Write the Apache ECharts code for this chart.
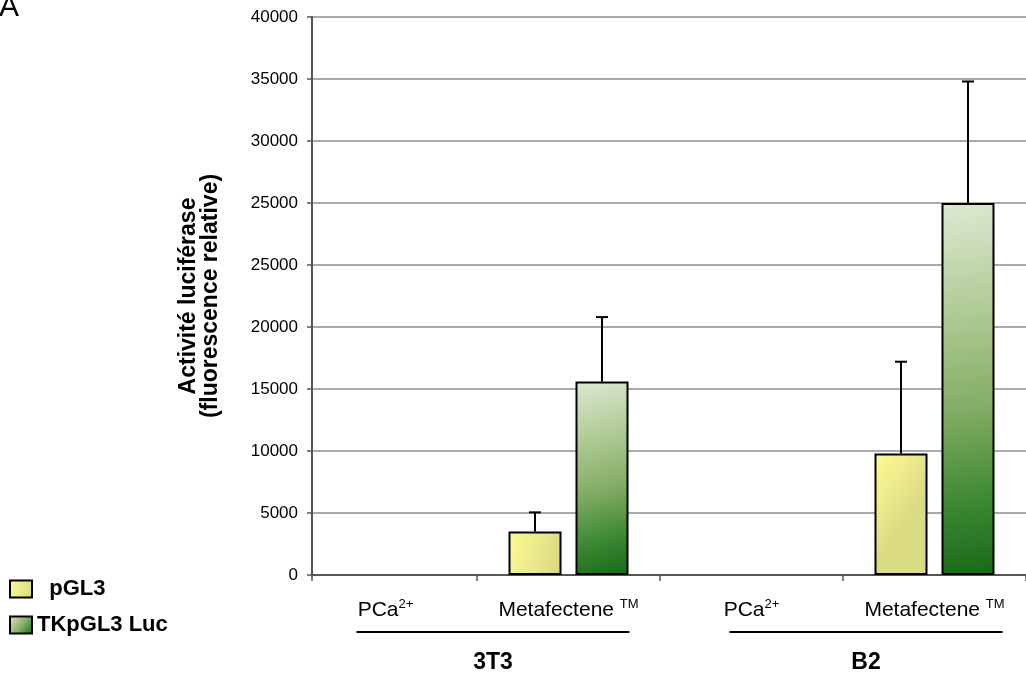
<!DOCTYPE html>
<html><head><meta charset="utf-8">
<script src="https://cdn.jsdelivr.net/npm/echarts@6/dist/echarts.min.js"></script>
<style>html,body{margin:0;padding:0;background:#fff}#c{width:1026px;height:678px}</style>
</head><body><div id="c"></div>
<script>
// ---- data ----
const categories = ['PCa2+', 'Metafectene TM', 'PCa2+', 'Metafectene TM'];
const groups = ['3T3', 'B2'];
const seriesNames = ['pGL3', 'TKpGL3 Luc'];
// values are in the axis' linear units (the source axis repeats the "25000" tick label)
const pGL3Values = [null, 3500, null, 9800];
const pGL3ErrTop = [null, 5050, null, 17200];
const tkValues = [null, 15600, null, 30000];
const tkErrTop = [null, 20800, null, 39800];
const yTickLabels = ['0', '5000', '10000', '15000', '20000', '25000', '25000', '30000', '35000', '40000'];
const yAxisTitle = 'Activité luciférase\n(fluorescence relative)';
const panelLetter = 'A';

// ---- chart ----
const FONT = '"Liberation Sans", Arial, sans-serif';
const Y_MAX = (yTickLabels.length - 1) * 5000;
const BAR_W = 53, BAR_GAP = 14;
const OFF = (BAR_W + BAR_GAP) / 2;

function errData(vals, tops) {
  const out = [];
  vals.forEach((v, i) => { if (v != null) out.push([i, v, tops[i]]); });
  return out;
}
function errRender(offset) {
  return function (params, api) {
    const base = api.coord([api.value(0), api.value(1)]);
    const top = api.coord([api.value(0), api.value(2)]);
    const x = base[0] + offset;
    const style = { stroke: '#000', lineWidth: 2 };
    return { type: 'group', children: [
      { type: 'line', shape: { x1: x, y1: base[1], x2: x, y2: top[1] }, style },
      { type: 'line', shape: { x1: x - 6, y1: top[1], x2: x + 6, y2: top[1] }, style }
    ] };
  };
}
function catLabel(v) {
  const m = v.match(/^(.*?)(2\+|TM)$/);
  return m ? '{n|' + m[1] + '}{s|' + m[2] + '}' : '{n|' + v + '}';
}

const yellowGrad = new echarts.graphic.LinearGradient(0, 0, 1, 0.3, [
  { offset: 0, color: '#fcfc94' }, { offset: 0.5, color: '#eeec8c' }, { offset: 1, color: '#dbdb84' }
]);
const greenGrad = new echarts.graphic.LinearGradient(0, 0, 1, 1, [
  { offset: 0, color: '#dde9d2' }, { offset: 0.3, color: '#afca94' }, { offset: 0.55, color: '#84ad66' },
  { offset: 0.8, color: '#3c8834' }, { offset: 1, color: '#176a17' }
]);

const chart = echarts.init(document.getElementById('c'), null, { renderer: 'canvas' });
chart.setOption({
  animation: false,
  textStyle: { fontFamily: FONT },
  title: { text: panelLetter, left: -1, top: -7, padding: 0,
    textStyle: { fontSize: 30, fontWeight: 'normal', color: '#000', fontFamily: FONT } },
  legend: {
    data: seriesNames, orient: 'vertical', left: 9, top: 578, padding: 0,
    itemWidth: 22, itemHeight: 17, itemGap: 14, icon: 'rect', selectedMode: false,
    itemStyle: { borderColor: '#000', borderWidth: 2 },
    formatter: n => (n === seriesNames[0] ? '  ' + n : n),
    textStyle: { fontSize: 22, fontWeight: 'bold', color: '#000', lineHeight: 20, fontFamily: FONT }
  },
  grid: [
    { left: 312, right: 0, top: 17, bottom: 103 },
    { left: 294, right: 0, top: 17, bottom: 103 },
    { left: 493, width: 373, top: 17, bottom: 103 }
  ],
  xAxis: [
    { gridIndex: 0, type: 'category', data: categories.map(() => ''),
      axisLine: { show: true, lineStyle: { color: '#555', width: 2 } },
      axisTick: { show: true, interval: i => i === 0, length: 6, lineStyle: { color: '#555', width: 1.5 } },
      axisLabel: { show: false }, splitLine: { show: false } },
    { gridIndex: 1, type: 'category', data: categories,
      axisLine: { show: false },
      axisTick: { show: true, interval: i => i > 0, length: 6, lineStyle: { color: '#555', width: 1.5 } },
      axisLabel: { margin: 23, formatter: catLabel, color: '#000',
        rich: {
          n: { fontSize: 21, lineHeight: 24, color: '#000', fontFamily: FONT },
          s: { fontSize: 13, lineHeight: 15, verticalAlign: 'top', color: '#000', fontFamily: FONT }
        } } },
    { gridIndex: 2, type: 'category', data: groups, boundaryGap: false,
      axisLine: { show: false }, axisTick: { show: false },
      axisLabel: { margin: 56, formatter: v => '{ln| }\n{g|' + v + '}',
        rich: {
          ln: { width: 273, height: 2, lineHeight: 2, fontSize: 1, backgroundColor: '#000' },
          g: { fontSize: 23, fontWeight: 'bold', lineHeight: 60, color: '#000', fontFamily: FONT }
        } } }
  ],
  yAxis: [
    { gridIndex: 0, type: 'value', min: 0, max: Y_MAX, interval: 5000,
      name: yAxisTitle, nameLocation: 'middle', nameRotate: 90, nameGap: 90,
      nameTextStyle: { fontSize: 23, fontWeight: 'bold', lineHeight: 22, color: '#000', fontFamily: FONT },
      axisLine: { show: true, lineStyle: { color: '#555', width: 2 } },
      axisTick: { show: true, length: 5, lineStyle: { color: '#555', width: 1.5 } },
      axisLabel: { fontSize: 17, color: '#000', margin: 14,
        formatter: v => yTickLabels[Math.round(v / 5000)] },
      splitLine: { show: true, lineStyle: { color: '#8e8e8e', width: 1.5 } } },
    { gridIndex: 1, type: 'value', min: 0, max: Y_MAX, interval: 5000, show: false, splitLine: { show: false } },
    { gridIndex: 2, type: 'value', min: 0, max: Y_MAX, show: false, splitLine: { show: false } }
  ],
  series: [
    { name: seriesNames[0], type: 'bar', xAxisIndex: 1, yAxisIndex: 1, data: pGL3Values,
      barWidth: BAR_W, barGap: (BAR_GAP / BAR_W * 100).toFixed(1) + '%',
      itemStyle: { color: yellowGrad, borderColor: '#000', borderWidth: 2 } },
    { name: seriesNames[1], type: 'bar', xAxisIndex: 1, yAxisIndex: 1, data: tkValues,
      barWidth: BAR_W,
      itemStyle: { color: greenGrad, borderColor: '#000', borderWidth: 2 } },
    { type: 'custom', xAxisIndex: 1, yAxisIndex: 1, z: 1, silent: true,
      data: errData(pGL3Values, pGL3ErrTop), renderItem: errRender(-OFF) },
    { type: 'custom', xAxisIndex: 1, yAxisIndex: 1, z: 1, silent: true,
      data: errData(tkValues, tkErrTop), renderItem: errRender(OFF) }
  ]
});
</script></body></html>
